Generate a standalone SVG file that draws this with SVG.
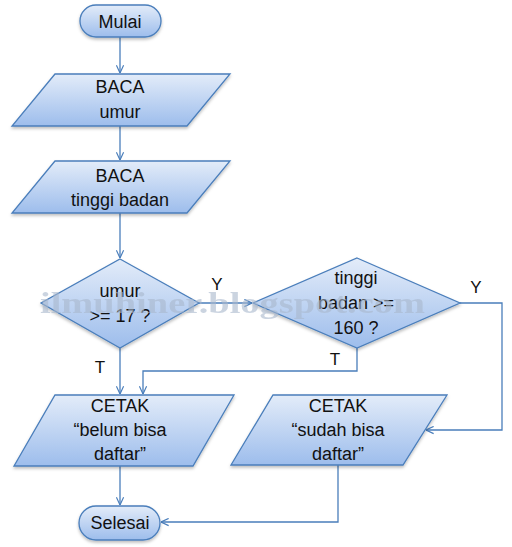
<svg xmlns="http://www.w3.org/2000/svg" width="512" height="547" viewBox="0 0 512 547">
<defs>
<linearGradient id="g" x1="0" y1="0" x2="0" y2="1">
<stop offset="0" stop-color="#e3ecf9"/>
<stop offset="1" stop-color="#9dbdec"/>
</linearGradient>
<filter id="sh" x="-10%" y="-10%" width="120%" height="130%">
<feDropShadow dx="0" dy="2" stdDeviation="1.5" flood-color="#000" flood-opacity="0.25"/>
</filter>
<marker id="arr" viewBox="0 0 10 10" refX="9.5" refY="5" markerWidth="9" markerHeight="9" markerUnits="userSpaceOnUse" orient="auto">
<path d="M1,1 L9.5,5 L1,9" fill="none" stroke="#4a7ebb" stroke-width="1.3"/>
</marker>
<style>
.s{fill:url(#g);stroke:#4a7ebb;stroke-width:1.3;filter:url(#sh)}
.t{font-family:"Liberation Sans",Arial,sans-serif;font-size:18px;fill:#111;text-anchor:middle}
.l{font-family:"Liberation Sans",Arial,sans-serif;font-size:17px;fill:#111;text-anchor:middle}
.c{fill:none;stroke:#4a7ebb;stroke-width:1.3}
.w{font-family:"Liberation Serif","Times New Roman",serif;font-weight:bold;font-size:29px;fill:#a9b8cd;opacity:0.6}
</style>
</defs>
<rect width="512" height="547" fill="#fff"/>
<g id="connectors">
<path class="c" d="M120,37 V73" marker-end="url(#arr)"/>
<path class="c" d="M120,126 V160" marker-end="url(#arr)"/>
<path class="c" d="M120,213 V258" marker-end="url(#arr)"/>
<path class="c" d="M199,303 H252" marker-end="url(#arr)"/>
<path class="c" d="M460,303 H502 V430 H426" marker-end="url(#arr)"/>
<path class="c" d="M357,348 V371 H143 V394" marker-end="url(#arr)"/>
<path class="c" d="M120,348 V394" marker-end="url(#arr)"/>
<path class="c" d="M120,466 V505" marker-end="url(#arr)"/>
<path class="c" d="M338,465 V522 H161" marker-end="url(#arr)"/>
</g>
<g id="labels">
<text class="l" x="217" y="290">Y</text>
<text class="l" x="476" y="293">Y</text>
<text class="l" x="100" y="373">T</text>
<text class="l" x="335" y="365">T</text>
</g>
<g id="mulai">
<rect class="s" x="80" y="5" width="81" height="32" rx="16"/>
<text class="t" x="120" y="28">Mulai</text>
</g>
<g id="baca-umur">
<polygon class="s" points="55,74 230,74 187,126 12,126"/>
<text class="t" x="120" y="93">BACA</text>
<text class="t" x="120" y="118">umur</text>
</g>
<g id="baca-tinggi">
<polygon class="s" points="55,161 230,161 187,213 12,213"/>
<text class="t" x="120" y="182">BACA</text>
<text class="t" x="120" y="206">tinggi badan</text>
</g>
<g id="cek-umur">
<polygon class="s" points="120,259 199,303 120,348 41,303"/>
<text class="t" x="120" y="297">umur</text>
<text class="t" x="120" y="322">&gt;= 17 ?</text>
</g>
<g id="cek-tinggi">
<polygon class="s" points="357,258 460,303 357,348 253,303"/>
<text class="t" x="356" y="284">tinggi</text>
<text class="t" x="356" y="309">badan &gt;=</text>
<text class="t" x="356" y="334">160 ?</text>
</g>
<g id="cetak-belum">
<polygon class="s" points="55,395 234,395 193,466 14,466"/>
<text class="t" x="120" y="412">CETAK</text>
<text class="t" x="120" y="436">“belum bisa</text>
<text class="t" x="120" y="460">daftar”</text>
</g>
<g id="cetak-sudah">
<polygon class="s" points="273,395 447,395 403,465 231,465"/>
<text class="t" x="338" y="412">CETAK</text>
<text class="t" x="338" y="436">“sudah bisa</text>
<text class="t" x="338" y="460">daftar”</text>
</g>
<g id="selesai">
<rect class="s" x="79" y="506" width="81" height="34" rx="17"/>
<text class="t" x="120" y="529">Selesai</text>
</g>
<text class="w" x="40" y="313" textLength="385" lengthAdjust="spacingAndGlyphs">ilmuhiner.blogspot.com</text>
</svg>
